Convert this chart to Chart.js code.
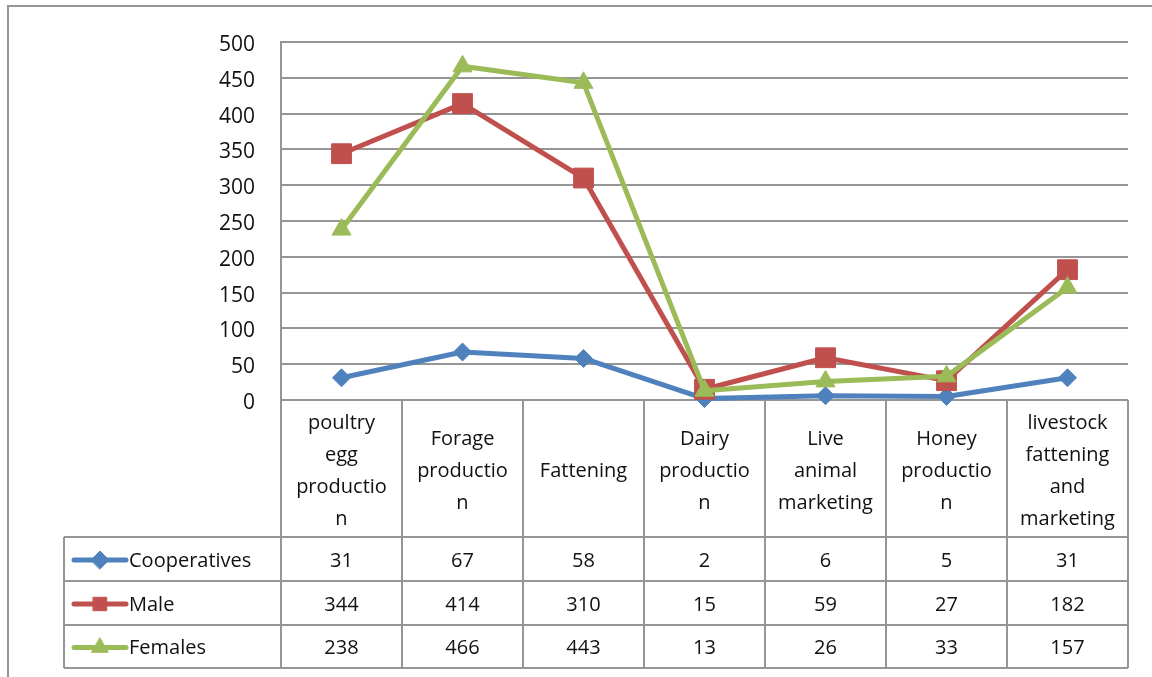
<!DOCTYPE html>
<html>
<head>
<meta charset="utf-8">
<script src="https://cdn.jsdelivr.net/npm/chart.js@4/dist/chart.umd.min.js"></script>
<style>
  html, body { margin: 0; padding: 0; background: #fff; }
  #wrap { position: relative; width: 1152px; height: 677px; }
</style>
</head>
<body>
<div id="wrap"><canvas id="c" width="1152" height="677"></canvas></div>
<script>
// ---- data ----
const categories = ["poultry egg production", "Forage production", "Fattening", "Dairy production", "Live animal marketing", "Honey production", "livestock fattening and marketing"];
const categoryLines = [
  ["poultry", "egg", "productio", "n"],
  ["Forage", "productio", "n"],
  ["Fattening"],
  ["Dairy", "productio", "n"],
  ["Live", "animal", "marketing"],
  ["Honey", "productio", "n"],
  ["livestock", "fattening", "and", "marketing"]
];
const seriesNames = ["Cooperatives", "Male", "Females"];
const cooperatives = [31, 67, 58, 2, 6, 5, 31];
const male = [344, 414, 310, 15, 59, 27, 182];
const females = [238, 466, 443, 13, 26, 33, 157];
const yTicks = [0, 50, 100, 150, 200, 250, 300, 350, 400, 450, 500];

const colors = ["#4F81BD", "#C0504D", "#9BBB59"];
const pointStyles = ["rectRot", "rect", "triangle"];
const pointRadii = [9, 14, 11];
const legendRadii = [9, 9.5, 9.5];
const gridColor = "#959595";
const textColor = "#111111";
const FONT = "'Open Sans', 'Liberation Sans', sans-serif";

const seriesValues = [cooperatives, male, females];

function drawMarker(ctx, style, r, x, y) {
  if (style === "rectRot") {
    ctx.moveTo(x - r, y); ctx.lineTo(x, y - r); ctx.lineTo(x + r, y); ctx.lineTo(x, y + r); ctx.closePath();
  } else if (style === "rect") {
    const h = r * Math.SQRT1_2;
    ctx.rect(x - h, y - h, 2 * h, 2 * h);
  } else {
    const a = r * Math.sqrt(3) / 2;
    ctx.moveTo(x, y - r); ctx.lineTo(x + a, y + r / 2); ctx.lineTo(x - a, y + r / 2); ctx.closePath();
  }
}

const tablePlugin = {
  id: 'dataTable',
  afterDraw(chart) {
    const ctx = chart.ctx;
    const ca = chart.chartArea;
    const xs = chart.scales.x;
    const n = categories.length;
    const colW = (ca.right - ca.left) / n;
    const yTop = ca.bottom;
    const yCatBottom = 537;
    const rowH = [537, 581, 625, 668];
    const tableLeft = 64;

    ctx.save();
    // outer frame
    ctx.strokeStyle = gridColor;
    ctx.lineWidth = 2;
    ctx.beginPath();
    ctx.moveTo(8, 677); ctx.lineTo(8, 6); ctx.lineTo(1152, 6);
    ctx.stroke();

    // table grid
    ctx.beginPath();
    for (let i = 0; i <= n; i++) {
      const x = ca.left + i * colW;
      ctx.moveTo(x, yTop); ctx.lineTo(x, rowH[3]);
    }
    ctx.moveTo(tableLeft, rowH[0]); ctx.lineTo(tableLeft, rowH[3]);
    for (let r = 0; r < rowH.length; r++) {
      ctx.moveTo(tableLeft, rowH[r]); ctx.lineTo(ca.right, rowH[r]);
    }
    ctx.stroke();

    // category labels
    ctx.fillStyle = textColor;
    ctx.font = "20px " + FONT;
    ctx.textAlign = "center";
    ctx.textBaseline = "middle";
    const lh = 32;
    const mid = (yTop + yCatBottom) / 2 + 3;
    for (let i = 0; i < n; i++) {
      const cx = xs.getPixelForValue(i);
      const lines = categoryLines[i];
      const start = mid - (lines.length - 1) * lh / 2;
      lines.forEach((t, k) => ctx.fillText(t, cx, start + k * lh));
    }

    // rows
    for (let s = 0; s < seriesNames.length; s++) {
      const cy = (rowH[s] + rowH[s + 1]) / 2 + 1;
      ctx.strokeStyle = colors[s];
      ctx.lineWidth = 5;
      ctx.lineCap = "round";
      ctx.beginPath();
      ctx.moveTo(74, cy); ctx.lineTo(126, cy);
      ctx.stroke();
      ctx.fillStyle = colors[s];
      ctx.lineWidth = 1;
      ctx.beginPath();
      drawMarker(ctx, pointStyles[s], legendRadii[s], 100, cy);
      ctx.fill(); ctx.stroke();

      ctx.fillStyle = textColor;
      ctx.textAlign = "left";
      ctx.fillText(seriesNames[s], 129, cy + 1);
      ctx.textAlign = "center";
      for (let i = 0; i < n; i++) {
        ctx.fillText(String(seriesValues[s][i]), xs.getPixelForValue(i), cy + 1);
      }
    }
    ctx.restore();
  }
};

new Chart(document.getElementById('c'), {
  type: 'line',
  data: {
    labels: categories,
    datasets: seriesNames.map((name, s) => ({
      label: name,
      data: seriesValues[s],
      borderColor: colors[s],
      backgroundColor: colors[s],
      borderWidth: 5,
      borderJoinStyle: 'round',
      borderCapStyle: 'round',
      tension: 0,
      pointStyle: pointStyles[s],
      pointRadius: pointRadii[s],
      pointHoverRadius: pointRadii[s],
      pointBorderWidth: 1,
      pointBackgroundColor: colors[s],
      pointBorderColor: colors[s],
      order: 3 - s,
      clip: false
    }))
  },
  options: {
    responsive: false,
    animation: false,
    devicePixelRatio: 1,
    layout: { padding: { left: 0, right: 24, top: 42, bottom: 277 } },
    plugins: { legend: { display: false }, tooltip: { enabled: false }, title: { display: false } },
    scales: {
      x: { display: false, offset: true },
      y: {
        min: 0, max: 500,
        afterFit: (s) => { s.width = 281; },
        afterBuildTicks: (s) => { s.ticks = yTicks.map(v => ({ value: v })); },
        grid: { color: gridColor, lineWidth: 2, drawTicks: false },
        border: { display: true, color: gridColor, width: 2 },
        ticks: { padding: 26, labelOffset: 3, color: textColor, font: { size: 21, family: FONT } }
      }
    }
  },
  plugins: [tablePlugin]
});
</script>
</body>
</html>
